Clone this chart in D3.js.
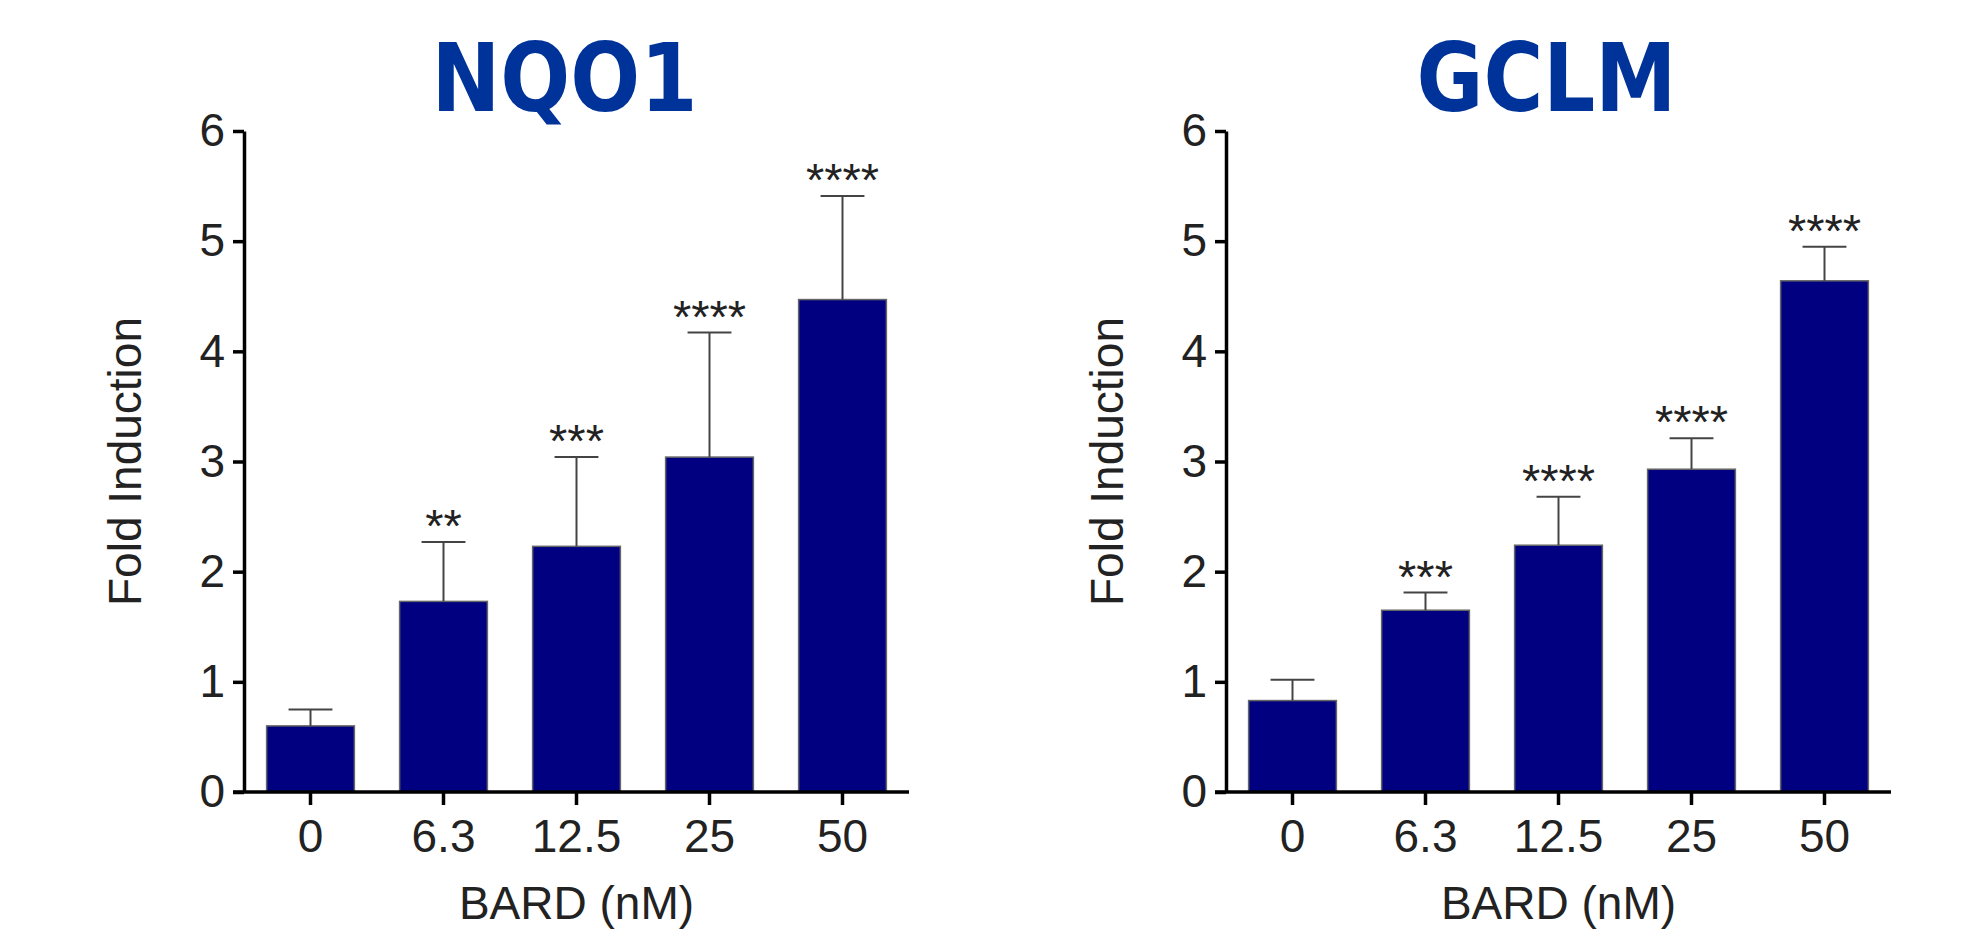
<!DOCTYPE html>
<html>
<head>
<meta charset="utf-8">
<script src="https://cdn.jsdelivr.net/npm/d3@7"></script>
<style>
  body { margin: 0; background: #fff; }
</style>
</head>
<body>
<div id="chart"></div>
<script>
const categories = ['0', '6.3', '12.5', '25', '50'];
const yTicks = [0, 1, 2, 3, 4, 5, 6];

const nqo1Means = [0.60, 1.73, 2.23, 3.04, 4.47];
const nqo1Errs = [0.15, 0.54, 0.81, 1.13, 0.94];
const nqo1Stars = ['', '**', '***', '****', '****'];

const gclmMeans = [0.83, 1.65, 2.24, 2.93, 4.64];
const gclmErrs = [0.19, 0.16, 0.44, 0.28, 0.31];
const gclmStars = ['', '***', '****', '****', '****'];

const svg = d3.select('#chart')
  .append('svg')
    .attr('width', 1980)
    .attr('height', 930);

function panel(title, titleWidth, means, errs, stars, x0, x1) {
  const top = 131, bottom = 792;
  const g = svg.append('g');

  const x = d3.scaleBand()
    .domain(categories)
    .range([x0, x1])
    .paddingInner(0.34)
    .paddingOuter(0.17);

  const y = d3.scaleLinear()
    .domain([0, 6])
    .range([bottom, top]);

  const rows = categories.map((c, i) => ({ c, m: means[i], e: errs[i], s: stars[i] }));

  // title
  g.append('text')
      .attr('x', (x0 + x1) / 2 - 12)
      .attr('y', 111)
      .attr('text-anchor', 'middle')
      .attr('font-family', 'DejaVu Sans, Verdana, sans-serif')
      .attr('font-weight', 'bold')
      .attr('font-size', '95px')
      .attr('fill', '#003399')
      .attr('textLength', titleWidth)
      .attr('lengthAdjust', 'spacingAndGlyphs')
      .text(title);

  // bars
  g.selectAll('rect.bar')
    .data(rows)
    .join('rect')
      .attr('class', 'bar')
      .attr('x', d => x(d.c))
      .attr('y', d => y(d.m))
      .attr('width', x.bandwidth())
      .attr('height', d => y(0) - y(d.m))
      .attr('fill', '#000080')
      .attr('stroke', '#666')
      .attr('stroke-width', 1.5);

  // error bars (upper only)
  const cap = x.bandwidth() * 0.25;
  const eb = g.selectAll('g.err')
    .data(rows)
    .join('g')
      .attr('class', 'err')
      .attr('stroke', '#444')
      .attr('stroke-width', 2);

  eb.append('line')
      .attr('x1', d => x(d.c) + x.bandwidth() / 2)
      .attr('x2', d => x(d.c) + x.bandwidth() / 2)
      .attr('y1', d => y(d.m))
      .attr('y2', d => y(d.m + d.e));

  eb.append('line')
      .attr('x1', d => x(d.c) + x.bandwidth() / 2 - cap)
      .attr('x2', d => x(d.c) + x.bandwidth() / 2 + cap)
      .attr('y1', d => y(d.m + d.e))
      .attr('y2', d => y(d.m + d.e));

  // significance stars
  g.selectAll('text.star')
    .data(rows)
    .join('text')
      .attr('class', 'star')
      .attr('x', d => x(d.c) + x.bandwidth() / 2)
      .attr('y', d => y(d.m + d.e))
      .attr('text-anchor', 'middle')
      .attr('font-family', 'Liberation Sans, Arial, sans-serif')
      .attr('font-size', '47px')
      .attr('fill', '#222')
      .text(d => d.s);

  // axes
  const xAxis = g.append('g')
      .attr('transform', `translate(0,${bottom})`)
      .call(d3.axisBottom(x).tickSize(13).tickSizeOuter(0).tickPadding(14));

  xAxis.select('.domain')
      .attr('d', `M${x0 - 11},0H${x1}`);

  const yAxis = g.append('g')
      .attr('transform', `translate(${x0},0)`)
      .call(d3.axisLeft(y).tickValues(yTicks).tickFormat(d3.format('d')).tickSize(11).tickSizeOuter(0).tickPadding(8));

  [xAxis, yAxis].forEach(a => {
    a.selectAll('.domain, .tick line')
        .attr('stroke', '#000')
        .attr('stroke-width', 3.5);
    a.selectAll('.tick text')
        .attr('font-family', 'Liberation Sans, Arial, sans-serif')
        .attr('font-size', '46px')
        .attr('fill', '#222');
  });

  // axis titles
  g.append('text')
      .attr('x', (x0 + x1) / 2)
      .attr('y', 919)
      .attr('text-anchor', 'middle')
      .attr('font-family', 'Liberation Sans, Arial, sans-serif')
      .attr('font-size', '46px')
      .attr('fill', '#222')
      .text('BARD (nM)');

  g.append('text')
      .attr('transform', `translate(${x0 - 103},${(top + bottom) / 2}) rotate(-90)`)
      .attr('text-anchor', 'middle')
      .attr('font-family', 'Liberation Sans, Arial, sans-serif')
      .attr('font-size', '46px')
      .attr('fill', '#222')
      .text('Fold Induction');
}

panel('NQO1', 266, nqo1Means, nqo1Errs, nqo1Stars, 244, 909);
panel('GCLM', 260, gclmMeans, gclmErrs, gclmStars, 1226, 1891);
</script>
</body>
</html>
